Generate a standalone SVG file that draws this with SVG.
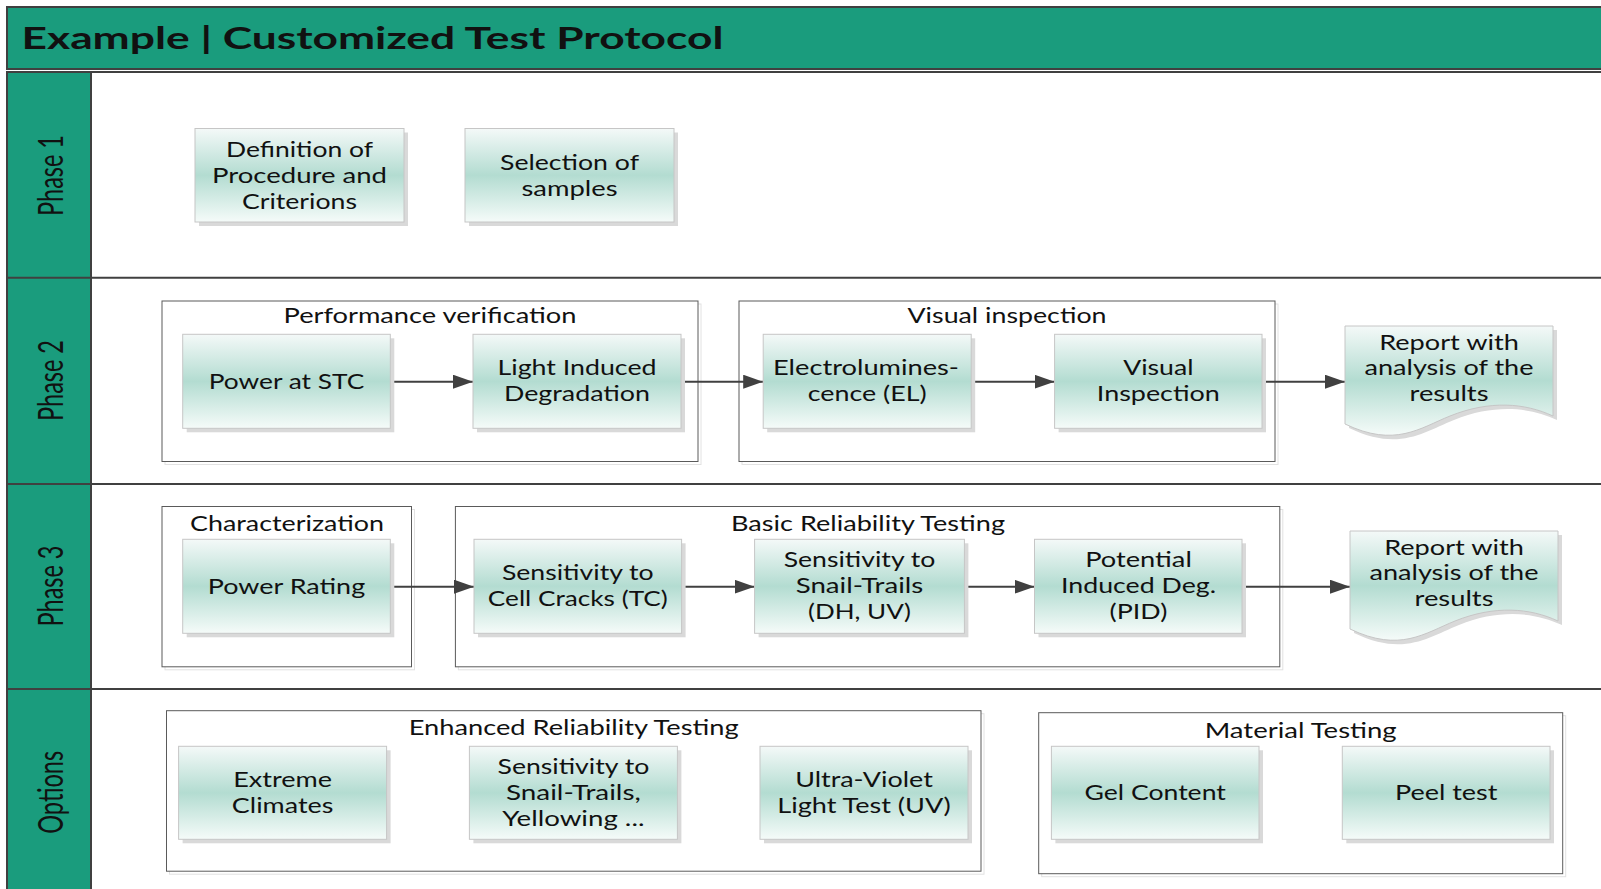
<svg xmlns="http://www.w3.org/2000/svg" width="1601" height="889" viewBox="0 0 1601 889">
<defs>
<linearGradient id="boxgrad" x1="0" y1="0" x2="0" y2="1">
<stop offset="0" stop-color="#f4f9f8"/>
<stop offset="0.5" stop-color="#b3dcd1"/>
<stop offset="1" stop-color="#f5fbf9"/>
</linearGradient>
<marker id="arrow" markerUnits="userSpaceOnUse" markerWidth="20" markerHeight="14" refX="20" refY="7" orient="auto">
<path d="M0,0 L20,7 L0,14 Z" fill="#404040"/>
</marker>
<style>
.t{font-family:Lato,"Liberation Sans",sans-serif;font-size:21px;fill:#111;text-anchor:middle;}
.lane{font-family:Lato,"Liberation Sans",sans-serif;font-size:26px;fill:#111;text-anchor:middle;}
.title{font-family:Lato,"Liberation Sans",sans-serif;font-size:31px;font-weight:bold;fill:#111;}
.box{fill:url(#boxgrad);stroke:#c6c6c6;stroke-width:1;}
.shadow{fill:#d9d9d9;}
.grp{fill:#fff;stroke:#5a5a5a;stroke-width:1;}
.gshadow{fill:none;stroke:#e2e2e2;stroke-width:1;}
.div{stroke:#404040;stroke-width:2;fill:none;}
.conn{stroke:#404040;stroke-width:2;fill:none;marker-end:url(#arrow);}
</style>
</defs>
<rect x="0" y="0" width="1601" height="889" fill="#fff"/>

<!-- frame -->
<g id="frame">
<rect x="7" y="7" width="1600" height="62" fill="#1a9c7d" stroke="#404040" stroke-width="2"/>
<rect x="7" y="72" width="84" height="830" fill="#1a9c7d" stroke="#404040" stroke-width="2"/>
<line class="div" x1="7" y1="72" x2="1601" y2="72"/>
<line class="div" x1="7" y1="277.7" x2="1601" y2="277.7"/>
<line class="div" x1="7" y1="484" x2="1601" y2="484"/>
<line class="div" x1="7" y1="689" x2="1601" y2="689"/>
<text class="title" x="21.5" y="49.3" textLength="702" lengthAdjust="spacingAndGlyphs">Example | Customized Test Protocol</text>
</g>

<g id="lane-labels">
<text class="lane" transform="translate(63,175.5) scale(1.3,1) rotate(-90)" textLength="81" lengthAdjust="spacingAndGlyphs">Phase 1</text>
<text class="lane" transform="translate(63,380.5) scale(1.3,1) rotate(-90)" textLength="81" lengthAdjust="spacingAndGlyphs">Phase 2</text>
<text class="lane" transform="translate(63,586) scale(1.3,1) rotate(-90)" textLength="81" lengthAdjust="spacingAndGlyphs">Phase 3</text>
<text class="lane" transform="translate(63,792.3) scale(1.3,1) rotate(-90)" textLength="83" lengthAdjust="spacingAndGlyphs">Options</text>
</g>

<!-- group containers -->
<g id="grp-performance">
<rect class="gshadow" x="165" y="304" width="536" height="160.5"/>
<rect class="grp" x="162" y="301" width="536" height="160.5"/>
<text class="t" x="430" y="323.3" textLength="293" lengthAdjust="spacingAndGlyphs">Performance verification</text>
</g>
<g id="grp-visual">
<rect class="gshadow" x="742" y="304" width="536" height="160.5"/>
<rect class="grp" x="739" y="301" width="536" height="160.5"/>
<text class="t" x="1007" y="323.3" textLength="199" lengthAdjust="spacingAndGlyphs">Visual inspection</text>
</g>
<g id="grp-characterization">
<rect class="gshadow" x="165" y="509.5" width="249.5" height="160.3"/>
<rect class="grp" x="162" y="506.5" width="249.5" height="160.3"/>
<text class="t" x="287" y="531" textLength="194" lengthAdjust="spacingAndGlyphs">Characterization</text>
</g>
<g id="grp-basic">
<rect class="gshadow" x="458.4" y="509.5" width="824.4" height="160.3"/>
<rect class="grp" x="455.4" y="506.5" width="824.4" height="160.3"/>
<text class="t" x="868" y="531" textLength="274" lengthAdjust="spacingAndGlyphs">Basic Reliability Testing</text>
</g>
<g id="grp-enhanced">
<rect class="gshadow" x="169.5" y="713.7" width="814.5" height="160.5"/>
<rect class="grp" x="166.5" y="710.7" width="814.5" height="160.5"/>
<text class="t" x="573.7" y="735" textLength="330" lengthAdjust="spacingAndGlyphs">Enhanced Reliability Testing</text>
</g>
<g id="grp-material">
<rect class="gshadow" x="1041.7" y="715.7" width="524" height="161"/>
<rect class="grp" x="1038.7" y="712.7" width="524" height="161"/>
<text class="t" x="1300.7" y="738.3" textLength="192" lengthAdjust="spacingAndGlyphs">Material Testing</text>
</g>

<!-- connectors -->
<g id="connectors">
<line class="conn" x1="390.3" y1="381.7" x2="473" y2="381.7"/>
<line class="conn" x1="681" y1="381.7" x2="763.2" y2="381.7"/>
<line class="conn" x1="971.3" y1="381.7" x2="1054.6" y2="381.7"/>
<line class="conn" x1="1262" y1="381.7" x2="1345" y2="381.7"/>
<line class="conn" x1="390.3" y1="586.7" x2="474" y2="586.7"/>
<line class="conn" x1="681.6" y1="586.7" x2="754.6" y2="586.7"/>
<line class="conn" x1="964.4" y1="586.7" x2="1034.5" y2="586.7"/>
<line class="conn" x1="1242" y1="586.7" x2="1350" y2="586.7"/>
</g>

<!-- Phase 1 -->
<g id="definition">
<rect class="shadow" x="199" y="132.5" width="209" height="93.5"/>
<rect class="box" x="195" y="128.5" width="209" height="93.5"/>
<text class="t" x="299.5" y="156.7" textLength="147" lengthAdjust="spacingAndGlyphs">Definition of</text>
<text class="t" x="299.5" y="182.7" textLength="175" lengthAdjust="spacingAndGlyphs">Procedure and</text>
<text class="t" x="299.5" y="208.7" textLength="115" lengthAdjust="spacingAndGlyphs">Criterions</text>
</g>
<g id="selection">
<rect class="shadow" x="469" y="132.5" width="209" height="93.5"/>
<rect class="box" x="465" y="128.5" width="209" height="93.5"/>
<text class="t" x="569.5" y="169.5" textLength="139" lengthAdjust="spacingAndGlyphs">Selection of</text>
<text class="t" x="569.5" y="195.5" textLength="96" lengthAdjust="spacingAndGlyphs">samples</text>
</g>

<!-- Phase 2 -->
<g id="power-stc">
<rect class="shadow" x="186.7" y="338.3" width="207.6" height="94"/>
<rect class="box" x="182.7" y="334.3" width="207.6" height="94"/>
<text class="t" x="286.5" y="388.8" textLength="155.5" lengthAdjust="spacingAndGlyphs">Power at STC</text>
</g>
<g id="lid">
<rect class="shadow" x="477" y="338.3" width="208" height="94"/>
<rect class="box" x="473" y="334.3" width="208" height="94"/>
<text class="t" x="577" y="375.3" textLength="159" lengthAdjust="spacingAndGlyphs">Light Induced</text>
<text class="t" x="577" y="401.3" textLength="146" lengthAdjust="spacingAndGlyphs">Degradation</text>
</g>
<g id="el">
<rect class="shadow" x="767.2" y="338.3" width="208" height="94"/>
<rect class="box" x="763.2" y="334.3" width="208" height="94"/>
<text class="t" x="866" y="375.3" textLength="186" lengthAdjust="spacingAndGlyphs">Electrolumines-</text>
<text class="t" x="867.2" y="401.3" textLength="119" lengthAdjust="spacingAndGlyphs">cence (EL)</text>
</g>
<g id="visual-inspection">
<rect class="shadow" x="1058.6" y="338.3" width="207.4" height="94"/>
<rect class="box" x="1054.6" y="334.3" width="207.4" height="94"/>
<text class="t" x="1158.3" y="375.3" textLength="70.3" lengthAdjust="spacingAndGlyphs">Visual</text>
<text class="t" x="1158.3" y="401.3" textLength="123" lengthAdjust="spacingAndGlyphs">Inspection</text>
</g>
<g id="report-2">
<path class="shadow" d="M1349,330 H1557 V420 C1529,407 1494,404 1454,420 C1424,432 1399,452 1349,428 Z"/>
<path class="box" d="M1345,326 H1553 V416 C1525,403 1490,400 1450,416 C1420,428 1395,448 1345,424 Z"/>
<text class="t" x="1449" y="350" textLength="139.6" lengthAdjust="spacingAndGlyphs">Report with</text>
<text class="t" x="1449" y="375.3" textLength="169" lengthAdjust="spacingAndGlyphs">analysis of the</text>
<text class="t" x="1449" y="401" textLength="79" lengthAdjust="spacingAndGlyphs">results</text>
</g>

<!-- Phase 3 -->
<g id="power-rating">
<rect class="shadow" x="186.7" y="543.3" width="207.6" height="94"/>
<rect class="box" x="182.7" y="539.3" width="207.6" height="94"/>
<text class="t" x="286.5" y="593.8" textLength="157.3" lengthAdjust="spacingAndGlyphs">Power Rating</text>
</g>
<g id="cell-cracks">
<rect class="shadow" x="478" y="543.3" width="207.6" height="94"/>
<rect class="box" x="474" y="539.3" width="207.6" height="94"/>
<text class="t" x="577.8" y="580.3" textLength="151.7" lengthAdjust="spacingAndGlyphs">Sensitivity to</text>
<text class="t" x="577.8" y="606.3" textLength="180" lengthAdjust="spacingAndGlyphs">Cell Cracks (TC)</text>
</g>
<g id="snail-trails">
<rect class="shadow" x="758.6" y="543.3" width="209.8" height="94"/>
<rect class="box" x="754.6" y="539.3" width="209.8" height="94"/>
<text class="t" x="859.5" y="567.3" textLength="151.7" lengthAdjust="spacingAndGlyphs">Sensitivity to</text>
<text class="t" x="859.5" y="593.3" textLength="127.6" lengthAdjust="spacingAndGlyphs">Snail-Trails</text>
<text class="t" x="859.5" y="619.3" textLength="102.8" lengthAdjust="spacingAndGlyphs">(DH, UV)</text>
</g>
<g id="pid">
<rect class="shadow" x="1038.5" y="543.3" width="207.5" height="94"/>
<rect class="box" x="1034.5" y="539.3" width="207.5" height="94"/>
<text class="t" x="1138.5" y="567.3" textLength="106.7" lengthAdjust="spacingAndGlyphs">Potential</text>
<text class="t" x="1138.5" y="593.3" textLength="155" lengthAdjust="spacingAndGlyphs">Induced Deg.</text>
<text class="t" x="1138.5" y="619.3" textLength="57.8" lengthAdjust="spacingAndGlyphs">(PID)</text>
</g>
<g id="report-3">
<path class="shadow" d="M1354,535 H1562 V625 C1534,612 1499,609 1459,625 C1429,637 1404,657 1354,633 Z"/>
<path class="box" d="M1350,531 H1558 V621 C1530,608 1495,605 1455,621 C1425,633 1400,653 1350,629 Z"/>
<text class="t" x="1454" y="555" textLength="139.6" lengthAdjust="spacingAndGlyphs">Report with</text>
<text class="t" x="1454" y="580.3" textLength="169" lengthAdjust="spacingAndGlyphs">analysis of the</text>
<text class="t" x="1454" y="606" textLength="79" lengthAdjust="spacingAndGlyphs">results</text>
</g>

<!-- Options -->
<g id="extreme-climates">
<rect class="shadow" x="182.6" y="750.3" width="208" height="93"/>
<rect class="box" x="178.6" y="746.3" width="208" height="93"/>
<text class="t" x="282.6" y="787.3" textLength="98.8" lengthAdjust="spacingAndGlyphs">Extreme</text>
<text class="t" x="282.6" y="813.3" textLength="101.5" lengthAdjust="spacingAndGlyphs">Climates</text>
</g>
<g id="snail-yellowing">
<rect class="shadow" x="473.4" y="750.3" width="208" height="93"/>
<rect class="box" x="469.4" y="746.3" width="208" height="93"/>
<text class="t" x="573.4" y="774.3" textLength="151.7" lengthAdjust="spacingAndGlyphs">Sensitivity to</text>
<text class="t" x="573.4" y="800.3" textLength="134.8" lengthAdjust="spacingAndGlyphs">Snail-Trails,</text>
<text class="t" x="573.4" y="826.3" textLength="142.1" lengthAdjust="spacingAndGlyphs">Yellowing ...</text>
</g>
<g id="uv-test">
<rect class="shadow" x="764" y="750.3" width="208" height="93"/>
<rect class="box" x="760" y="746.3" width="208" height="93"/>
<text class="t" x="864" y="787.3" textLength="137.6" lengthAdjust="spacingAndGlyphs">Ultra-Violet</text>
<text class="t" x="864" y="813.3" textLength="173.4" lengthAdjust="spacingAndGlyphs">Light Test (UV)</text>
</g>
<g id="gel-content">
<rect class="shadow" x="1055.4" y="750.3" width="207.6" height="93"/>
<rect class="box" x="1051.4" y="746.3" width="207.6" height="93"/>
<text class="t" x="1155.2" y="800.3" textLength="141.2" lengthAdjust="spacingAndGlyphs">Gel Content</text>
</g>
<g id="peel-test">
<rect class="shadow" x="1346.3" y="750.3" width="207.7" height="93"/>
<rect class="box" x="1342.3" y="746.3" width="207.7" height="93"/>
<text class="t" x="1446.2" y="800.3" textLength="102.5" lengthAdjust="spacingAndGlyphs">Peel test</text>
</g>
</svg>
